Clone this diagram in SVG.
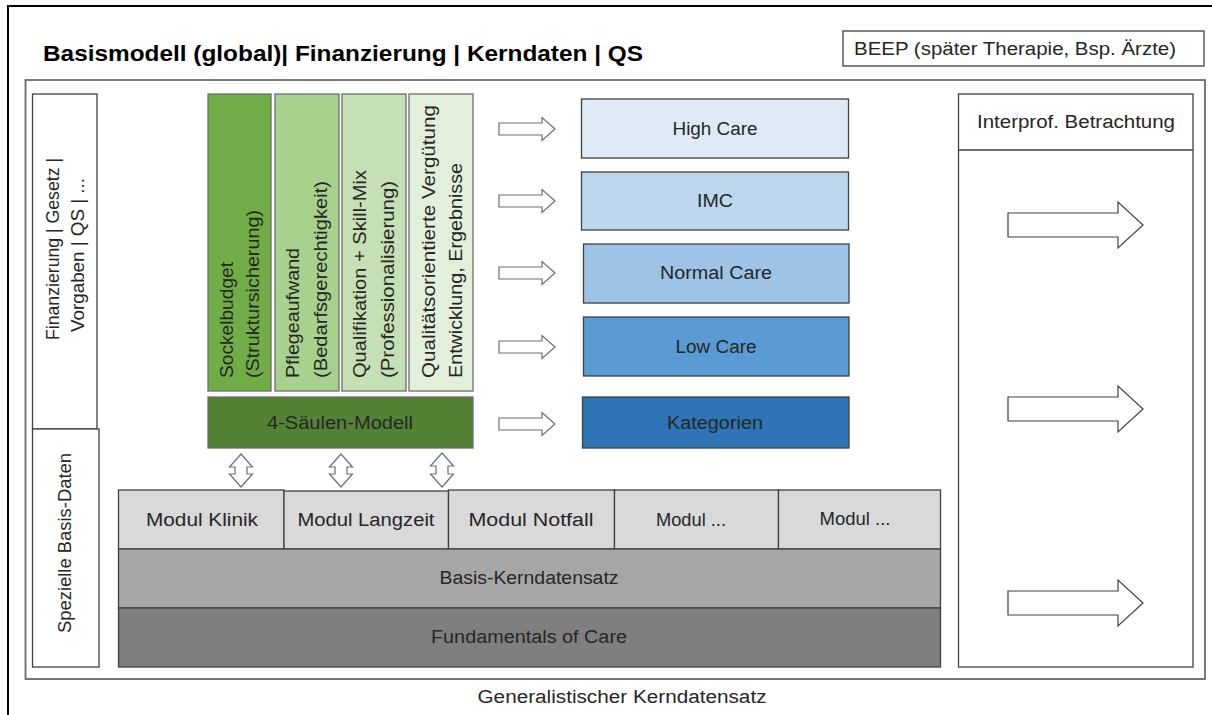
<svg xmlns="http://www.w3.org/2000/svg" width="1212" height="715" viewBox="0 0 1212 715">
<style>
text{font-family:"Liberation Sans",Arial,sans-serif;font-size:18px;fill:#262626;dominant-baseline:central;}
.c{text-anchor:middle;}
.s{text-anchor:start;}
.title{font-size:22px;font-weight:bold;fill:#000;dominant-baseline:alphabetic;}
.box{stroke:#404040;stroke-width:1.3;}
.col{stroke:#6e6e6e;stroke-width:1.3;}
.arr{fill:#fff;stroke:#6e6e6e;stroke-width:1.2;}
.arrR{fill:#fff;stroke:#404040;stroke-width:1.2;}
.frame{fill:none;stroke:#000;stroke-width:2;}
.inner{fill:#fff;stroke:#6a6a6a;stroke-width:1.8;}
</style>
<rect width="1212" height="715" fill="#fff"/>
<g id="outer-frame">
<path class="frame" d="M8,716 V6 H1213"/>
</g>
<g id="title">
<text class="title" x="43" y="61" textLength="600" lengthAdjust="spacingAndGlyphs">Basismodell (global)| Finanzierung | Kerndaten | QS</text>
</g>
<g id="beep">
<rect x="843" y="31" width="361" height="35" fill="#fff" class="box"/>
<text class="c" x="1015" y="48.5" textLength="322" lengthAdjust="spacingAndGlyphs">BEEP (später Therapie, Bsp. Ärzte)</text>
</g>
<g id="inner-frame">
<rect class="inner" x="25.5" y="80" width="1179.5" height="599"/>
</g>
<g id="left-top">
<rect x="32.5" y="94" width="64.5" height="335" fill="#fff" class="box"/>
<text class="c" transform="translate(53,249) rotate(-90)" textLength="182" lengthAdjust="spacingAndGlyphs">Finanzierung | Gesetz |</text>
<text class="c" transform="translate(78,255) rotate(-90)" textLength="154" lengthAdjust="spacingAndGlyphs">Vorgaben | QS | ...</text>
</g>
<g id="left-bottom">
<rect x="32.5" y="429" width="66.5" height="238" fill="#fff" class="box"/>
<text class="c" transform="translate(65,543) rotate(-90)" textLength="180" lengthAdjust="spacingAndGlyphs">Spezielle Basis-Daten</text>
</g>
<g id="col-sockelbudget">
<rect x="208" y="94" width="63" height="297" fill="#70ad47" class="col"/>
<text class="s" transform="translate(227,378) rotate(-90)" textLength="116" lengthAdjust="spacingAndGlyphs">Sockelbudget</text>
<text class="s" transform="translate(253,378) rotate(-90)" textLength="168" lengthAdjust="spacingAndGlyphs">(Struktursicherung)</text>
</g>
<g id="col-pflegeaufwand">
<rect x="275" y="94" width="64" height="297" fill="#a9d18e" class="col"/>
<text class="s" transform="translate(293,378) rotate(-90)" textLength="130" lengthAdjust="spacingAndGlyphs">Pflegeaufwand</text>
<text class="s" transform="translate(321,378) rotate(-90)" textLength="197" lengthAdjust="spacingAndGlyphs">(Bedarfsgerechtigkeit)</text>
</g>
<g id="col-qualifikation">
<rect x="342" y="94" width="64" height="297" fill="#c5e0b4" class="col"/>
<text class="s" transform="translate(360,378) rotate(-90)" textLength="208" lengthAdjust="spacingAndGlyphs">Qualifikation + Skill-Mix</text>
<text class="s" transform="translate(388,378) rotate(-90)" textLength="197" lengthAdjust="spacingAndGlyphs">(Professionalisierung)</text>
</g>
<g id="col-qualitaet">
<rect x="409" y="94" width="64" height="297" fill="#e2f0d9" class="col"/>
<text class="s" transform="translate(429,378) rotate(-90)" textLength="273" lengthAdjust="spacingAndGlyphs">Qualitätsorientierte Vergütung</text>
<text class="s" transform="translate(456,378) rotate(-90)" textLength="215" lengthAdjust="spacingAndGlyphs">Entwicklung, Ergebnisse</text>
</g>
<g id="saeulen-modell">
<rect x="208" y="397" width="265" height="51" fill="#548235" class="col"/>
<text class="c" x="340" y="423" fill="#1a1a1a" textLength="146" lengthAdjust="spacingAndGlyphs">4-Säulen-Modell</text>
</g>
<g id="high-care">
<rect x="581.5" y="99" width="267" height="59" fill="#deebf7" class="box"/>
<text class="c" x="715" y="129" textLength="85" lengthAdjust="spacingAndGlyphs">High Care</text>
</g>
<g id="imc">
<rect x="581.5" y="172" width="267" height="58" fill="#bdd7ee" class="box"/>
<text class="c" x="715" y="201" textLength="36" lengthAdjust="spacingAndGlyphs">IMC</text>
</g>
<g id="normal-care">
<rect x="583.5" y="244" width="265.5" height="59" fill="#9dc3e6" class="box"/>
<text class="c" x="716" y="273" textLength="112" lengthAdjust="spacingAndGlyphs">Normal Care</text>
</g>
<g id="low-care">
<rect x="583.5" y="317" width="265.5" height="59" fill="#5b9bd5" class="box"/>
<text class="c" x="716" y="347" textLength="81" lengthAdjust="spacingAndGlyphs">Low Care</text>
</g>
<g id="kategorien">
<rect x="582.5" y="397" width="266.5" height="51" fill="#2e75b6" class="box"/>
<text class="c" x="715" y="423" fill="#1a1a1a" textLength="96" lengthAdjust="spacingAndGlyphs">Kategorien</text>
</g>
<g id="modul-klinik">
<rect x="118.5" y="490" width="165.5" height="59" fill="#d9d9d9" class="box"/>
<text class="c" x="202" y="520" textLength="112" lengthAdjust="spacingAndGlyphs">Modul Klinik</text>
</g>
<g id="modul-langzeit">
<rect x="284" y="491" width="164.5" height="58" fill="#d9d9d9" class="box"/>
<text class="c" x="366" y="520" textLength="137" lengthAdjust="spacingAndGlyphs">Modul Langzeit</text>
</g>
<g id="modul-notfall">
<rect x="448.5" y="490" width="166" height="59" fill="#d9d9d9" class="box"/>
<text class="c" x="531" y="520" textLength="125" lengthAdjust="spacingAndGlyphs">Modul Notfall</text>
</g>
<g id="modul-4">
<rect x="614.5" y="490" width="164" height="59" fill="#d9d9d9" class="box"/>
<text class="c" x="691" y="520" textLength="70" lengthAdjust="spacingAndGlyphs">Modul ...</text>
</g>
<g id="modul-5">
<rect x="778.5" y="490" width="162" height="59" fill="#d9d9d9" class="box"/>
<text class="c" x="855" y="519" textLength="71" lengthAdjust="spacingAndGlyphs">Modul ...</text>
</g>
<g id="basis-kerndatensatz">
<rect x="118.5" y="549" width="822" height="59" fill="#a6a6a6" class="box"/>
<text class="c" x="529" y="578" textLength="179" lengthAdjust="spacingAndGlyphs">Basis-Kerndatensatz</text>
</g>
<g id="fundamentals">
<rect x="118.5" y="608" width="822" height="59" fill="#7f7f7f" class="box"/>
<text class="c" x="529" y="637" textLength="196" lengthAdjust="spacingAndGlyphs">Fundamentals of Care</text>
</g>
<g id="interprof">
<rect x="958.5" y="94" width="234.5" height="573" fill="#fff" class="box"/>
<line x1="958.5" y1="150" x2="1193" y2="150" stroke="#404040" stroke-width="1.3"/>
<text class="c" x="1076" y="122" textLength="198" lengthAdjust="spacingAndGlyphs">Interprof. Betrachtung</text>
</g>
<g id="footer">
<text class="c" x="622" y="697" textLength="289" lengthAdjust="spacingAndGlyphs">Generalistischer Kerndatensatz</text>
</g>
<g id="connectors">
<path class="arr" d="M499,123 H542 V117.5 L555,129 L542,140.5 V135 H499 Z"/>
<path class="arr" d="M499,195 H542 V189.5 L555,201 L542,212.5 V207 H499 Z"/>
<path class="arr" d="M499,267 H542 V261.5 L555,273 L542,284.5 V279 H499 Z"/>
<path class="arr" d="M499,341 H542 V335.5 L555,347 L542,358.5 V353 H499 Z"/>
<path class="arr" d="M499,418 H542 V412.5 L555,424 L542,435.5 V430 H499 Z"/>
<path class="arr" d="M241,454 L252.5,467 H247 V474 H252.5 L241,487 L229.5,474 H235 V467 H229.5 Z"/>
<path class="arr" d="M341,454 L352.5,467 H347 V474 H352.5 L341,487 L329.5,474 H335 V467 H329.5 Z"/>
<path class="arr" d="M442,453 L453.5,466 H448 V474 H453.5 L442,487 L430.5,474 H436 V466 H430.5 Z"/>
<path class="arrR" d="M1008,213 H1118 V202 L1143,225 L1118,248 V237 H1008 Z"/>
<path class="arrR" d="M1008,397 H1118 V386 L1143,409 L1118,432 V421 H1008 Z"/>
<path class="arrR" d="M1008,591 H1118 V580 L1143,603 L1118,626 V615 H1008 Z"/>
</g>
</svg>
